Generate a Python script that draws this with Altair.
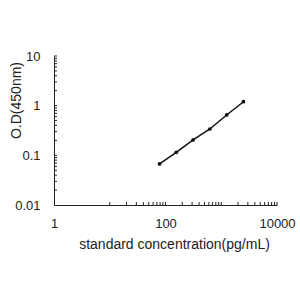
import altair as alt
import pandas as pd

conc = [78.125, 156.25, 312.5, 625, 1250, 2500]
od = [0.067, 0.115, 0.204, 0.339, 0.65, 1.2]

x_labels = [1, 100, 10000]
y_labels = [0.01, 0.1, 1, 10]
x_minor = [10, 20, 30, 40, 50, 60, 70, 80, 90, 100,
           200, 300, 400, 500, 600, 700, 800, 900, 1000,
           2000, 3000, 4000, 5000, 6000, 7000, 8000, 9000, 10000]
y_minor = [0.02, 0.03, 0.04, 0.05, 0.06, 0.07, 0.08, 0.09, 0.1,
           0.2, 0.3, 0.4, 0.5, 0.6, 0.7, 0.8, 0.9, 1,
           2, 3, 4, 5, 6, 7, 8, 9, 10]

FONT = "Liberation Sans"
INK = "#222222"
W, H = 223, 149

xscale = alt.Scale(type="log", domain=[1, 10000])
yscale = alt.Scale(type="log", domain=[0.01, 10])

df = pd.DataFrame({"conc": conc, "od": od})

xaxis = alt.Axis(values=x_labels, labelExpr="datum.value", grid=False, ticks=False,
                 domainColor=INK, domainWidth=1, labelFont=FONT, labelFontSize=13,
                 labelColor=INK, labelPadding=12, labelFlush=False,
                 title="standard concentration(pg/mL)", titleFont=FONT, titleFontSize=14,
                 titleFontWeight="normal", titleColor=INK, titleX=120, titleY=32,
                 titleBaseline="top")
yaxis = alt.Axis(values=y_labels, labelExpr="datum.value", grid=False, ticks=False,
                 domainColor=INK, domainWidth=1, labelFont=FONT, labelFontSize=13,
                 labelColor=INK, labelPadding=14, labelFlush=False,
                 title="O.D(450nm)", titleFont=FONT, titleFontSize=14,
                 titleFontWeight="normal", titleColor=INK, titleX=-31, titleY=44,
                 titleAngle=-90, titleBaseline="bottom", titleAlign="center")

line = alt.Chart(df).mark_line(color="#111111", strokeWidth=1.5).encode(
    x=alt.X("conc:Q", scale=xscale, axis=xaxis),
    y=alt.Y("od:Q", scale=yscale, axis=yaxis),
)
pts = alt.Chart(df).mark_circle(color="#111111", opacity=1, size=14).encode(
    x=alt.X("conc:Q", scale=xscale),
    y=alt.Y("od:Q", scale=yscale),
)
xt = alt.Chart(pd.DataFrame({"v": x_minor})).mark_rule(color=INK, strokeWidth=1).encode(
    x=alt.X("v:Q", scale=xscale),
    y=alt.value(H), y2=alt.value(H - 3),
)
yt = alt.Chart(pd.DataFrame({"v": y_minor})).mark_rule(color=INK, strokeWidth=1).encode(
    y=alt.Y("v:Q", scale=yscale),
    x=alt.value(0), x2=alt.value(3),
)

chart = alt.layer(xt, yt, line, pts).properties(
    width=W, height=H,
    autosize=alt.AutoSizeParams(type="none"),
    padding={"left": 54, "top": 56, "right": 23, "bottom": 95},
    background="white",
).configure_view(stroke=None)

chart.save("out.html", embed_options={"renderer": "svg", "actions": False})
